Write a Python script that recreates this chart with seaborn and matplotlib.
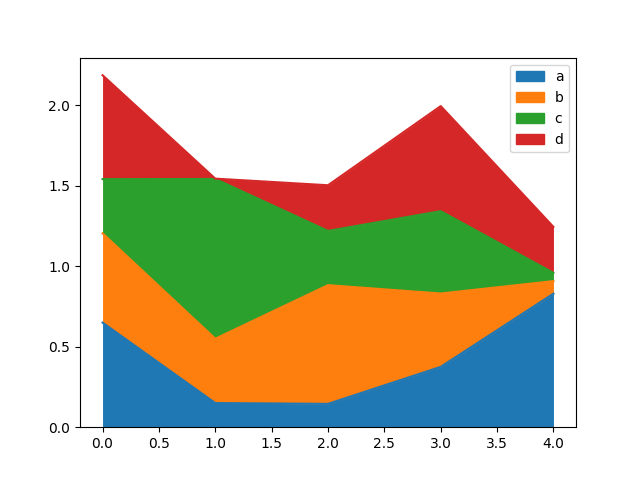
import numpy as np
import seaborn as sns
import matplotlib
matplotlib.use("Agg")
import matplotlib.pyplot as plt
from matplotlib.patches import Rectangle

x = [0, 1, 2, 3, 4]
names = ["a", "b", "c", "d"]
a = [0.65, 0.15, 0.145, 0.375, 0.83]
b = [0.555, 0.40, 0.738, 0.456, 0.078]
c = [0.337, 0.993, 0.337, 0.512, 0.051]
d = [0.646, 0.002, 0.284, 0.653, 0.286]

colors = sns.color_palette("tab10", 4)

fig, ax = plt.subplots(figsize=(6.4, 4.8), dpi=100)
lower = np.zeros(len(x))
handles = []
for name, vals, col in zip(names, [a, b, c, d], colors):
    upper = lower + np.array(vals)
    sns.lineplot(x=x, y=upper, color=col, ax=ax, linewidth=1.5)
    ax.fill_between(x, lower, upper, color=col, linewidth=0)
    handles.append(Rectangle((0, 0), 1, 1, color=col))
    lower = upper

ax.set_ylim(bottom=0)
ax.set_xlabel("")
ax.set_ylabel("")
ax.legend(handles, names, loc="upper right")
fig.savefig("out.png")
